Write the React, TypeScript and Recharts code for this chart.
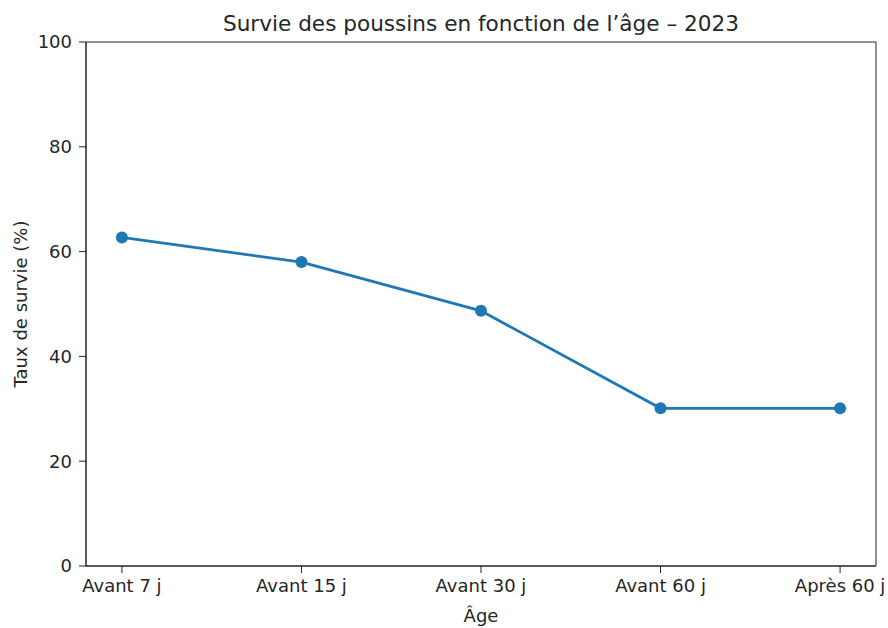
import { LineChart, Line, XAxis, YAxis, ReferenceArea } from 'recharts';

const categories = ['Avant 7 j', 'Avant 15 j', 'Avant 30 j', 'Avant 60 j', 'Après 60 j'];
const survie = [62.7, 58.0, 48.7, 30.1, 30.1];
const yTicks = [0, 20, 40, 60, 80, 100];
const xTicks = [0, 1, 2, 3, 4];

const data = categories.map((name, i) => ({ idx: i, name, value: survie[i] }));

const font = '"DejaVu Sans", sans-serif';
const textColor = '#262626';

export default function App() {
  return (
    <div style={{ position: 'absolute', left: 0, top: 0, width: 888, height: 628, background: '#fff' }}>
      <LineChart width={888} height={628} data={data} margin={{ top: 42, right: 12, bottom: 0, left: 0 }}>
        <XAxis
          dataKey="idx"
          type="number"
          domain={[-0.2, 4.2]}
          ticks={xTicks}
          tickFormatter={(v: number) => categories[v]}
          height={62}
          tickSize={7}
          tickMargin={6}
          interval={0}
          stroke="#222"
          tick={{ fill: textColor, fontSize: 18, fontFamily: font }}
        />
        <YAxis
          type="number"
          domain={[0, 100]}
          ticks={yTicks}
          width={86}
          tickSize={7}
          tickMargin={7}
          stroke="#222"
          tick={{ fill: textColor, fontSize: 18, fontFamily: font }}
        />
        <ReferenceArea x1={-0.2} x2={4.2} y1={0} y2={100} fill="none" stroke="#222" strokeWidth={1} />
        <Line
          dataKey="value"
          stroke="#1f77b4"
          strokeWidth={2.8}
          dot={{ r: 6, fill: '#1f77b4', stroke: '#1f77b4', strokeWidth: 0 }}
          activeDot={false}
          isAnimationActive={false}
        />
        <text x={481} y={31} textAnchor="middle" fontSize={21.6} fontFamily={font} fill={textColor}>
          Survie des poussins en fonction de l’âge – 2023
        </text>
        <text x={481} y={622} textAnchor="middle" fontSize={18} fontFamily={font} fill={textColor}>
          Âge
        </text>
        <text
          x={27}
          y={304}
          textAnchor="middle"
          fontSize={18}
          fontFamily={font}
          fill={textColor}
          transform="rotate(-90 27 304)"
        >
          Taux de survie (%)
        </text>
      </LineChart>
    </div>
  );
}
